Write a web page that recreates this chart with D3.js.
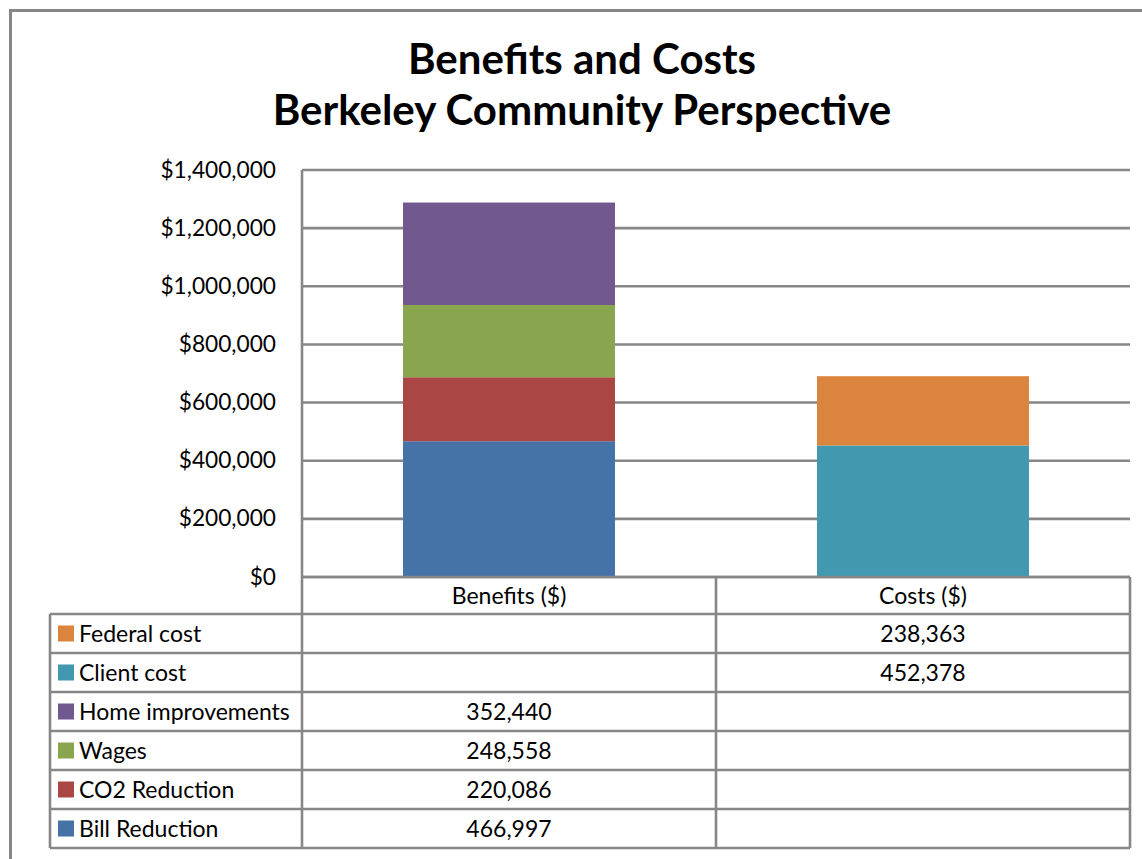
<!DOCTYPE html>
<html>
<head>
<meta charset="utf-8">
<script src="https://cdn.jsdelivr.net/npm/d3@7"></script>
<style>
  html, body { margin: 0; padding: 0; background: #ffffff; }
  svg { display: block; }
  text { font-family: Lato, "Open Sans", sans-serif; fill: #000; }
</style>
</head>
<body>
<svg id="chart" width="1142" height="859"></svg>
<script>
// ---- data ----
const titleLines = ["Benefits and Costs", "Berkeley Community Perspective"];
const categories = ["Benefits ($)", "Costs ($)"];
const seriesNames = ["Bill Reduction", "CO2 Reduction", "Wages", "Home improvements", "Client cost", "Federal cost"];
const billReduction = [466997, null];
const co2Reduction = [220086, null];
const wages = [248558, null];
const homeImprovements = [352440, null];
const clientCost = [null, 452378];
const federalCost = [null, 238363];
const seriesColors = ["#4572A7", "#AA4643", "#89A54E", "#71588F", "#4198AF", "#DB843D"];
const yTicks = [0, 200000, 400000, 600000, 800000, 1000000, 1200000, 1400000];

const seriesValues = [billReduction, co2Reduction, wages, homeImprovements, clientCost, federalCost];

// ---- layout ----
const svg = d3.select("#chart");
const gray = "#878787";
const plotLeft = 302, plotRight = 1130, plotTop = 170, plotBottom = 577;
const tableLeft = 50, tableHeaderBottom = 614, rowH = 39;
const bodyFont = "23px", tickFont = "22.7px";

// outer frame
svg.append("rect")
  .attr("x", 10.5).attr("y", 10.5).attr("width", 1200).attr("height", 900)
  .attr("fill", "none").attr("stroke", gray).attr("stroke-width", 3);

// title
svg.append("g").selectAll("text").data(titleLines).join("text")
  .attr("x", 582).attr("y", (d, i) => 74 + i * 51)
  .attr("text-anchor", "middle")
  .style("font-weight", "bold").style("font-size", "42px")
  .text(d => d);

// scales
const x = d3.scaleBand().domain(categories).range([plotLeft, plotRight])
  .paddingInner(0.488).paddingOuter(0.244);
const y = d3.scaleLinear().domain([0, 1400000]).range([plotBottom, plotTop]);

// gridlines
svg.append("g").selectAll("line").data(yTicks).join("line")
  .attr("x1", plotLeft).attr("x2", plotRight)
  .attr("y1", d => y(d)).attr("y2", d => y(d))
  .attr("stroke", gray).attr("stroke-width", 2.6);

// y axis labels
const fmt = d3.format(",");
svg.append("g").selectAll("text").data(yTicks).join("text")
  .attr("x", 276).attr("y", d => y(d) + 7.5)
  .attr("text-anchor", "end")
  .style("font-size", tickFont)
  .text(d => "$" + fmt(d));

// stacked bars
const table = categories.map((c, ci) => {
  const row = { category: c };
  seriesNames.forEach((s, si) => { row[s] = seriesValues[si][ci] || 0; });
  return row;
});
const stack = d3.stack().keys(seriesNames)(table);
const color = d3.scaleOrdinal().domain(seriesNames).range(seriesColors);
svg.append("g").selectAll("g").data(stack).join("g")
  .attr("fill", d => color(d.key))
  .selectAll("rect").data(d => d.filter(p => p[1] - p[0] > 0)).join("rect")
  .attr("x", d => x(d.data.category))
  .attr("width", x.bandwidth())
  .attr("y", d => y(d[1]))
  .attr("height", d => y(d[0]) - y(d[1]));

// redraw zero line above bars
svg.append("line")
  .attr("x1", plotLeft).attr("x2", plotRight)
  .attr("y1", y(0)).attr("y2", y(0))
  .attr("stroke", gray).attr("stroke-width", 2.6);

// ---- data table ----
const rowsOrder = seriesNames.slice().reverse();
const tableBottom = tableHeaderBottom + rowsOrder.length * rowH;
const tg = svg.append("g");

// horizontal lines
d3.range(rowsOrder.length + 1).forEach(i => {
  tg.append("line")
    .attr("x1", tableLeft).attr("x2", plotRight)
    .attr("y1", tableHeaderBottom + i * rowH).attr("y2", tableHeaderBottom + i * rowH)
    .attr("stroke", gray).attr("stroke-width", 2.6);
});
// vertical lines
const midX = (x(categories[0]) + x.bandwidth() / 2 + x(categories[1]) + x.bandwidth() / 2) / 2;
[[tableLeft, tableHeaderBottom], [plotLeft, plotTop], [midX, plotBottom], [plotRight, plotBottom]].forEach(([vx, vy]) => {
  tg.append("line")
    .attr("x1", vx).attr("x2", vx)
    .attr("y1", vy).attr("y2", tableBottom)
    .attr("stroke", gray).attr("stroke-width", 2.6);
});

// header
tg.selectAll("text.hdr").data(categories).join("text")
  .attr("class", "hdr")
  .attr("x", d => x(d) + x.bandwidth() / 2)
  .attr("y", (plotBottom + tableHeaderBottom) / 2 + 8)
  .attr("text-anchor", "middle")
  .style("font-size", bodyFont)
  .text(d => d);

// rows
rowsOrder.forEach((s, ri) => {
  const cy = tableHeaderBottom + ri * rowH + rowH / 2;
  tg.append("rect")
    .attr("x", 58).attr("y", cy - 8).attr("width", 16).attr("height", 16)
    .attr("fill", color(s));
  tg.append("text")
    .attr("x", 79).attr("y", cy + 8)
    .style("font-size", bodyFont)
    .text(s);
  const vals = seriesValues[seriesNames.indexOf(s)];
  categories.forEach((c, ci) => {
    if (vals[ci] != null) {
      tg.append("text")
        .attr("x", x(c) + x.bandwidth() / 2)
        .attr("y", cy + 8)
        .attr("text-anchor", "middle")
        .style("font-size", bodyFont)
        .text(fmt(vals[ci]));
    }
  });
});
</script>
</body>
</html>
